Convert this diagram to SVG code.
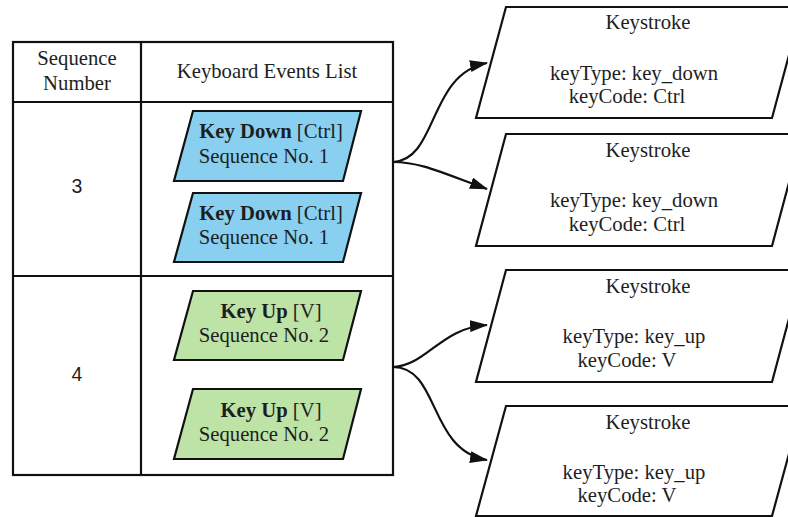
<svg xmlns="http://www.w3.org/2000/svg" width="788" height="517" viewBox="0 0 788 517">
  <style>
    .grid { fill: none; stroke: #111; stroke-width: 2.2; }
    .shape { stroke: #111; stroke-width: 2.2; stroke-linejoin: miter; }
    .down { fill: #89cff0; }
    .up { fill: #bde4a6; }
    .record { fill: #fff; }
    .serif { font-family: "Liberation Serif", "Times New Roman", serif; font-size: 20.7px; fill: #1e1e1e; text-anchor: middle; }
    .sans { font-family: "Liberation Sans", Arial, sans-serif; font-size: 19.5px; fill: #1e1e1e; text-anchor: middle; }
    .b { font-weight: bold; }
    .wire { fill: none; stroke: #111; stroke-width: 2.2; }
  </style>
  <defs>
    <marker id="arrow" viewBox="0 0 18 12" refX="17" refY="6" markerWidth="18" markerHeight="12" markerUnits="userSpaceOnUse" orient="auto">
      <path d="M0,0 L18,6 L0,12 Z" fill="#111"/>
    </marker>
  </defs>

  <rect width="788" height="517" fill="#fff"/>

  <!-- event table -->
  <g id="table">
    <rect class="grid" x="13" y="42" width="380" height="433"/>
    <line class="grid" x1="141" y1="42" x2="141" y2="475"/>
    <line class="grid" x1="13" y1="102" x2="393" y2="102"/>
    <line class="grid" x1="13" y1="276" x2="393" y2="276"/>
    <text class="serif" x="77" y="65">Sequence</text>
    <text class="serif" x="77" y="90">Number</text>
    <text class="serif" x="267" y="78">Keyboard Events List</text>
    <text class="sans" x="77" y="193">3</text>
    <text class="sans" x="77" y="381">4</text>
  </g>

  <!-- keyboard events -->
  <g id="event-down-1">
    <polygon class="shape down" points="193,111 361,111 343,181 174,181"/>
    <text class="serif" x="271" y="138"><tspan class="b">Key Down</tspan> [Ctrl]</text>
    <text class="serif" x="264" y="163">Sequence No. 1</text>
  </g>
  <g id="event-down-2">
    <polygon class="shape down" points="193,193 361,193 343,262 174,262"/>
    <text class="serif" x="271" y="220"><tspan class="b">Key Down</tspan> [Ctrl]</text>
    <text class="serif" x="264" y="244">Sequence No. 1</text>
  </g>
  <g id="event-up-1">
    <polygon class="shape up" points="193,291 361,291 343,360 174,360"/>
    <text class="serif" x="271" y="318"><tspan class="b">Key Up</tspan> [V]</text>
    <text class="serif" x="264" y="342">Sequence No. 2</text>
  </g>
  <g id="event-up-2">
    <polygon class="shape up" points="193,389 361,389 343,459 174,459"/>
    <text class="serif" x="271" y="417"><tspan class="b">Key Up</tspan> [V]</text>
    <text class="serif" x="264" y="441">Sequence No. 2</text>
  </g>

  <!-- keystroke records -->
  <g id="keystroke-1">
    <polygon class="shape record" points="506,7 802,7 772,118 476,118"/>
    <text class="serif" x="648" y="29">Keystroke</text>
    <text class="serif" x="634" y="80">keyType: key_down</text>
    <text class="serif" x="627" y="103">keyCode: Ctrl</text>
  </g>
  <g id="keystroke-2">
    <polygon class="shape record" points="506,134 802,134 772,246 476,246"/>
    <text class="serif" x="648" y="157">Keystroke</text>
    <text class="serif" x="634" y="207">keyType: key_down</text>
    <text class="serif" x="627" y="231">keyCode: Ctrl</text>
  </g>
  <g id="keystroke-3">
    <polygon class="shape record" points="506,270 802,270 772,382 476,382"/>
    <text class="serif" x="648" y="293">Keystroke</text>
    <text class="serif" x="634" y="343">keyType: key_up</text>
    <text class="serif" x="627" y="367">keyCode: V</text>
  </g>
  <g id="keystroke-4">
    <polygon class="shape record" points="506,406 802,406 772,516 476,516"/>
    <text class="serif" x="648" y="429">Keystroke</text>
    <text class="serif" x="634" y="479">keyType: key_up</text>
    <text class="serif" x="627" y="502">keyCode: V</text>
  </g>

  <!-- connectors -->
  <g id="connectors">
    <path class="wire" d="M393,162 C438,160 428,74 487,63" marker-end="url(#arrow)"/>
    <path class="wire" d="M393,162 C420,162 440,172 487,189" marker-end="url(#arrow)"/>
    <path class="wire" d="M393,367 C428,365 440,328 487,325" marker-end="url(#arrow)"/>
    <path class="wire" d="M393,367 C440,367 428,450 487,460" marker-end="url(#arrow)"/>
  </g>
</svg>
